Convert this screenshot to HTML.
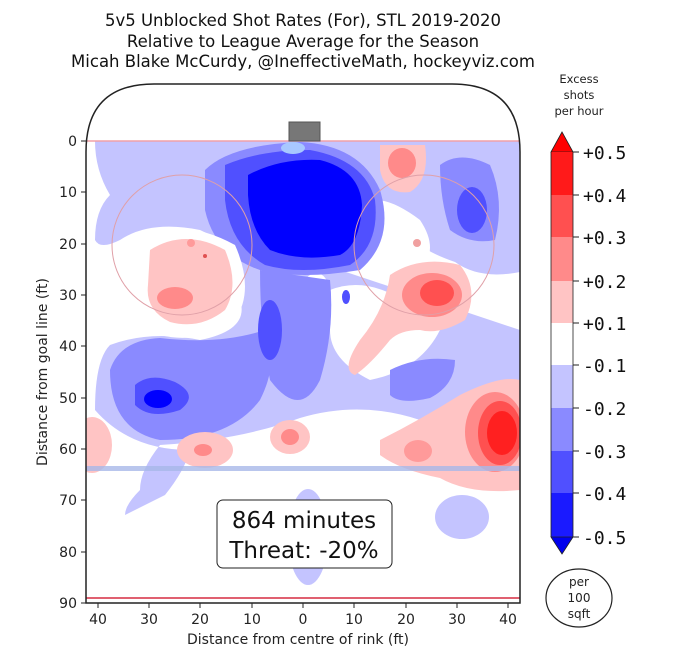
<!DOCTYPE html>
<html><head><meta charset="utf-8"><style>
html,body{margin:0;padding:0;background:#fff;}
svg{display:block;font-family:"DejaVu Sans","Liberation Sans",sans-serif;}
</style></head><body>
<svg width="681" height="659" viewBox="0 0 681 659" xmlns="http://www.w3.org/2000/svg">
<defs>
<clipPath id="rk"><path d="M86,603 L86,152 Q86,84 154,84 L452,84 Q520,84 520,152 L520,603 Z"/></clipPath>
</defs>
<rect width="681" height="659" fill="#fff"/>
<g text-anchor="middle" font-size="16.5" fill="#111">
<text x="303" y="26">5v5 Unblocked Shot Rates (For), STL 2019-2020</text>
<text x="303" y="47">Relative to League Average for the Season</text>
<text x="303" y="67">Micah Blake McCurdy, @IneffectiveMath, hockeyviz.com</text>
</g>
<g clip-path="url(#rk)">
<path d="M95,141 L520,141 L520,272 Q480,280 455,262 Q420,250 410,235 Q395,200 370,200 Q350,250 340,270 L520,330 L520,425 Q470,440 420,420 Q360,400 300,418 Q240,440 160,445 Q140,470 140,490 Q125,505 125,515 L165,495 Q185,470 190,450 Q130,450 95,410 Q95,360 110,345 Q150,330 200,340 Q250,330 240,300 Q245,250 200,230 Q150,220 120,240 Q100,250 95,240 Q95,210 110,195 Q95,170 95,141 Z" fill="#c4c4ff"/>
<ellipse cx="462" cy="517" rx="27" ry="22" fill="#c4c4ff"/>
<ellipse cx="308" cy="537" rx="20" ry="48" fill="#c4c4ff"/>
<path d="M360,205 Q380,190 420,220 Q440,250 420,270 Q380,280 370,260 Q355,240 360,205 Z" fill="#fff"/>
<path d="M330,290 Q380,270 440,330 Q420,370 370,380 Q330,360 330,330 Z" fill="#fff"/>
<ellipse cx="316" cy="290" rx="13" ry="17" fill="#fff"/>
<path d="M205,170 Q230,145 300,142 Q360,145 380,190 Q395,240 360,270 Q300,280 260,270 Q215,255 205,210 Z" fill="#8a8aff"/>
<path d="M260,270 L330,280 Q335,330 320,380 Q300,420 270,380 Q260,330 260,270 Z" fill="#8a8aff"/>
<path d="M110,370 Q120,340 160,338 Q220,345 265,330 Q280,360 260,400 Q230,440 160,440 Q110,430 110,370 Z" fill="#8a8aff"/>
<path d="M225,165 Q260,150 310,150 Q365,160 375,200 Q380,245 350,265 Q300,275 265,265 Q230,245 225,200 Z" fill="#5050ff"/>
<path d="M248,175 Q280,158 320,160 Q360,170 362,205 Q360,245 340,255 Q300,262 270,250 Q250,230 248,195 Z" fill="#0000ff"/>
<ellipse cx="293" cy="148" rx="12" ry="6" fill="#a8c8ff"/>
<ellipse cx="270" cy="330" rx="12" ry="30" fill="#5050ff"/>
<ellipse cx="346" cy="297" rx="4" ry="7" fill="#5050ff"/>
<path d="M135,385 Q150,372 175,382 Q200,395 180,410 Q150,420 135,405 Z" fill="#5050ff"/>
<ellipse cx="158" cy="399" rx="14" ry="9" fill="#0000ff"/>
<path d="M440,165 Q460,150 490,165 Q505,200 495,240 Q470,245 450,230 Q440,200 440,165 Z" fill="#8a8aff"/>
<ellipse cx="472" cy="210" rx="15" ry="23" fill="#5050ff"/>
<path d="M390,370 Q420,355 455,360 Q455,385 430,398 Q400,405 390,395 Z" fill="#8a8aff"/>
<path d="M140,240 Q180,215 235,245 Q255,290 235,320 Q200,345 160,335 Q130,320 135,290 Q130,260 140,240 Z" fill="#fff"/>
<path d="M150,250 Q185,228 225,250 Q240,285 225,310 Q200,330 170,322 Q145,310 148,285 Z" fill="#ffc4c4"/>
<ellipse cx="175" cy="298" rx="18" ry="11" fill="#ff8a8a"/>
<circle cx="191" cy="243" r="4" fill="#ff9a9a"/>
<circle cx="205" cy="256" r="2" fill="#e05050"/>
<path d="M380,145 L425,145 Q430,180 410,192 Q385,195 380,170 Z" fill="#ffc4c4"/>
<ellipse cx="402" cy="163" rx="14" ry="15" fill="#ff8a8a"/>
<circle cx="417" cy="243" r="4" fill="#f0a0a0"/>
<path d="M390,275 Q420,255 460,265 Q480,290 465,320 Q440,335 420,330 Q400,330 390,340 Q370,365 355,375 Q340,370 360,340 Q385,310 390,275 Z" fill="#ffc4c4"/>
<ellipse cx="432" cy="295" rx="30" ry="22" fill="#ff8a8a"/>
<ellipse cx="437" cy="293" rx="17" ry="13" fill="#ff5050"/>
<path d="M380,440 Q420,420 460,395 Q500,375 520,380 L520,490 Q470,495 440,478 Q400,470 380,455 Z" fill="#ffc4c4"/>
<ellipse cx="495" cy="432" rx="30" ry="40" fill="#ff8a8a"/>
<ellipse cx="500" cy="433" rx="22" ry="32" fill="#ff5050"/>
<ellipse cx="502" cy="433" rx="15" ry="22" fill="#ff2020"/>
<ellipse cx="418" cy="451" rx="14" ry="11" fill="#ff9a9a"/>
<ellipse cx="290" cy="437" rx="20" ry="17" fill="#ffc4c4"/>
<ellipse cx="290" cy="437" rx="9" ry="8" fill="#ff8a8a"/>
<ellipse cx="205" cy="450" rx="28" ry="18" fill="#ffc4c4"/>
<ellipse cx="203" cy="450" rx="9" ry="6" fill="#ff8a8a"/>
<ellipse cx="92" cy="445" rx="20" ry="28" fill="#ffc4c4"/>
<circle cx="182" cy="245" r="70" fill="none" stroke="#e0a0a8" stroke-width="1"/>
<circle cx="424" cy="245" r="70" fill="none" stroke="#e0a0a8" stroke-width="1"/>
<line x1="86" y1="141" x2="520" y2="141" stroke="#f0a0a8" stroke-width="1.5"/>
<rect x="86" y="466" width="434" height="5" fill="#a8b8e8" opacity="0.8"/>
<line x1="86" y1="598" x2="520" y2="598" stroke="#e06070" stroke-width="2"/>
</g>
<rect x="289" y="122" width="31" height="19" fill="#777" stroke="#555" stroke-width="1"/>
<path d="M86,603 L86,152 Q86,84 154,84 L452,84 Q520,84 520,152 L520,603 Z" fill="none" stroke="#222" stroke-width="1.5"/>
<rect x="217" y="500" width="175" height="68" rx="6" fill="#fff" stroke="#222" stroke-width="1"/>
<g text-anchor="middle" font-size="23" fill="#111">
<text x="304" y="528">864 minutes</text>
<text x="304" y="558">Threat: -20%</text>
</g>
<g stroke="#222">
<line x1="81" y1="141" x2="86" y2="141"/><line x1="81" y1="192" x2="86" y2="192"/><line x1="81" y1="244" x2="86" y2="244"/><line x1="81" y1="295" x2="86" y2="295"/><line x1="81" y1="346" x2="86" y2="346"/><line x1="81" y1="398" x2="86" y2="398"/><line x1="81" y1="449" x2="86" y2="449"/><line x1="81" y1="500" x2="86" y2="500"/><line x1="81" y1="552" x2="86" y2="552"/><line x1="81" y1="603" x2="86" y2="603"/>
</g>
<g font-size="14" fill="#222" text-anchor="end">
<text x="77" y="146">0</text><text x="77" y="197">10</text><text x="77" y="249">20</text><text x="77" y="300">30</text><text x="77" y="351">40</text><text x="77" y="403">50</text><text x="77" y="454">60</text><text x="77" y="505">70</text><text x="77" y="557">80</text><text x="77" y="608">90</text>
</g>
<text transform="translate(47,372) rotate(-90)" text-anchor="middle" font-size="14" fill="#222">Distance from goal line (ft)</text>
<g stroke="#222">
<line x1="98" y1="603" x2="98" y2="608"/><line x1="149" y1="603" x2="149" y2="608"/><line x1="200" y1="603" x2="200" y2="608"/><line x1="252" y1="603" x2="252" y2="608"/><line x1="303" y1="603" x2="303" y2="608"/><line x1="354" y1="603" x2="354" y2="608"/><line x1="406" y1="603" x2="406" y2="608"/><line x1="457" y1="603" x2="457" y2="608"/><line x1="508" y1="603" x2="508" y2="608"/>
</g>
<g font-size="14" fill="#222" text-anchor="middle">
<text x="98" y="624">40</text><text x="149" y="624">30</text><text x="200" y="624">20</text><text x="252" y="624">10</text><text x="303" y="624">0</text><text x="354" y="624">10</text><text x="406" y="624">20</text><text x="457" y="624">30</text><text x="508" y="624">40</text>
<text x="298" y="644">Distance from centre of rink (ft)</text>
</g>
<g font-size="11.5" fill="#222" text-anchor="middle">
<text x="579" y="83">Excess</text><text x="579" y="99">shots</text><text x="579" y="115">per hour</text>
</g>
<polygon points="551,152 562,132 573,152" fill="#ff0000" stroke="#222" stroke-width="0.8"/>
<rect x="551" y="152" width="22" height="44" fill="#ff1a1a"/>
<rect x="551" y="195" width="22" height="43" fill="#ff5050"/>
<rect x="551" y="237" width="22" height="45" fill="#ff8a8a"/>
<rect x="551" y="281" width="22" height="43" fill="#ffc4c4"/>
<rect x="551" y="323" width="22" height="43" fill="#ffffff"/>
<rect x="551" y="365" width="22" height="44" fill="#c4c4ff"/>
<rect x="551" y="408" width="22" height="44" fill="#8a8aff"/>
<rect x="551" y="451" width="22" height="43" fill="#5050ff"/>
<rect x="551" y="493" width="22" height="44" fill="#1a1aff"/>
<polygon points="551,537 562,554 573,537" fill="#0000ee" stroke="#222" stroke-width="0.8"/>
<path d="M551,152 L551,537 M573,152 L573,537" stroke="#222" stroke-width="0.8"/>
<g stroke="#222">
<line x1="573" y1="152" x2="579" y2="152"/><line x1="573" y1="195" x2="579" y2="195"/><line x1="573" y1="237" x2="579" y2="237"/><line x1="573" y1="281" x2="579" y2="281"/><line x1="573" y1="323" x2="579" y2="323"/><line x1="573" y1="365" x2="579" y2="365"/><line x1="573" y1="408" x2="579" y2="408"/><line x1="573" y1="451" x2="579" y2="451"/><line x1="573" y1="493" x2="579" y2="493"/><line x1="573" y1="537" x2="579" y2="537"/>
</g>
<g font-family="'DejaVu Sans Mono','Liberation Mono',monospace" font-size="18" fill="#111">
<text x="583" y="159">+0.5</text><text x="583" y="202">+0.4</text><text x="583" y="244">+0.3</text><text x="583" y="288">+0.2</text><text x="583" y="330">+0.1</text><text x="583" y="372">-0.1</text><text x="583" y="415">-0.2</text><text x="583" y="458">-0.3</text><text x="583" y="500">-0.4</text><text x="583" y="544">-0.5</text>
</g>
<ellipse cx="579" cy="598" rx="33" ry="29" fill="#fff" stroke="#222" stroke-width="1.2"/>
<g font-size="12" fill="#222" text-anchor="middle">
<text x="579" y="586">per</text><text x="579" y="602">100</text><text x="579" y="618">sqft</text>
</g>
</svg>
</body></html>
